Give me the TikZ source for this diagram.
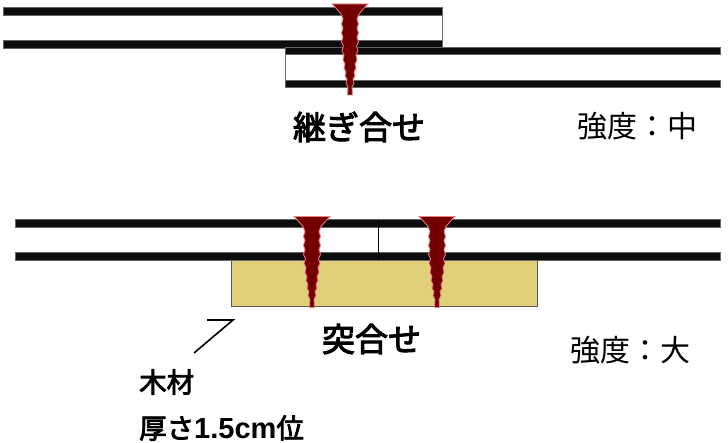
\documentclass[tikz,border=0pt]{standalone}
\usepackage{fontspec}
\setmainfont{Liberation Sans}
\newfontfamily\jpfont{Noto Sans CJK JP}
\newfontfamily\jpbold[FakeBold=3]{Noto Sans CJK JP}
\usetikzlibrary{positioning}

\tikzset{
  band/.style={fill=black!95,draw=black!60,line width=0.5pt},
  edgeline/.style={draw=black!55,line width=1pt},
  joint/.style={draw=black,line width=0.8pt},
  wood/.style={fill=woodcol,draw=black!65,line width=1pt},
  title/.style={font=\jpbold\fontsize{33}{33}\selectfont,inner sep=0pt},
  grade/.style={font=\jpfont\fontsize{30}{30}\selectfont,inner sep=0pt},
  note/.style={font=\jpbold\fontsize{27.5}{27.5}\selectfont,inner sep=0pt,anchor=west},
  pics/screw/.style={code={
    \filldraw[fill=screwcol,draw=screwedge,line width=0.8pt]
      (-18,0) -- (18,0) -- (15,3) -- (9,10) -- (7,15) -- (8.5,20) -- (7,24) -- (8.5,29)
      -- (7,33) -- (8.5,38) -- (6.5,42) -- (8,47) -- (6,51) -- (7,56) -- (5,60)
      -- (6,64) -- (4,68) -- (5,72) -- (3,75) -- (4,79) -- (2,83) -- (2.5,91)
      -- (-2.5,91) -- (-2,83) -- (-4,79) -- (-3,75) -- (-5,72) -- (-4,68) -- (-6,64)
      -- (-5,60) -- (-7,56) -- (-6,51) -- (-8,47) -- (-6.5,42) -- (-8.5,38)
      -- (-7,33) -- (-8.5,29) -- (-7,24) -- (-8.5,20) -- (-7,15) -- (-9,10) -- (-15,3) -- cycle;
  }}
}
\definecolor{woodcol}{HTML}{E0D07A}
\definecolor{screwcol}{HTML}{720000}
\definecolor{screwedge}{HTML}{F08088}

\begin{document}
\begin{tikzpicture}[x=1pt,y=-1pt]
\useasboundingbox (0,0) rectangle (728,443);

% lapped boards
\draw[edgeline] (442,8) -- (442,47);
\draw[band] (3,7.5) rectangle (442,15);
\draw[band] (3,40.5) rectangle (442,48);
\draw[edgeline] (285,48) -- (285,87);
\draw[band] (285,47.5) rectangle (720,54.5);
\draw[band] (285,80) rectangle (720,87);
\pic at (350,4) {screw};

% butted boards on a batten
\draw[wood] (231,260) rectangle (537,307);
\draw[band] (15,219.5) rectangle (720,227);
\draw[band] (15,252.5) rectangle (720,260);
\draw[joint] (378.7,220) -- (378.7,260);
\pic at (312,216.5) {screw};
\pic at (437,216.5) {screw};

% labels
\node[title] (lapname)   at (359,127) {継ぎ合せ};
\node[grade] (lapgrade)  at (637.5,126) {強度：中};
\node[title] (buttname)  at (371.5,339) {突合せ};
\node[grade] (buttgrade) at (630,350) {強度：大};
\node[note]  (woodname)  at (139,382) {木材};
\node[note]  (woodsize)  at (139,428) {厚さ{\fontspec{Liberation Sans}\bfseries\fontsize{29}{29}\selectfont 1.5cm}位};

\coordinate (leadA) at (207,320);
\coordinate (leadB) at (233,320);
\coordinate (leadC) at (194,353);
\draw[black,line width=1.6pt] (leadA) -- (leadB) -- (leadC);
\end{tikzpicture}
\end{document}
